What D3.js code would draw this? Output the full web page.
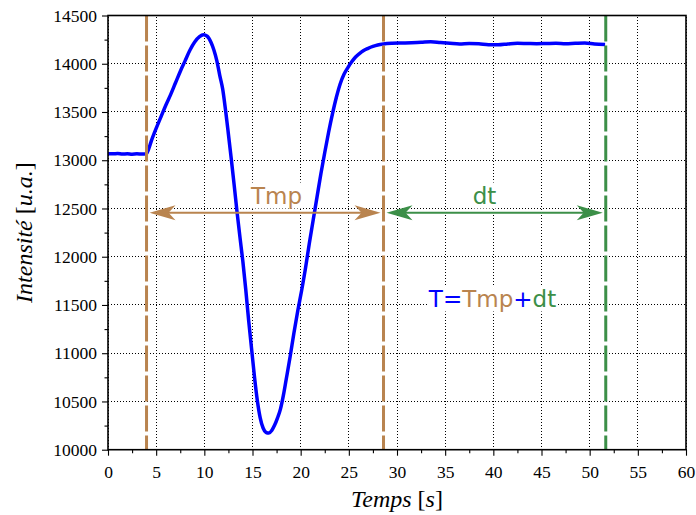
<!DOCTYPE html>
<html><head><meta charset="utf-8">
<script src="https://cdn.jsdelivr.net/npm/d3@7"></script>
<style>body{margin:0;background:#fff}svg{display:block}</style>
</head><body>
<svg id="chart" width="696" height="515"></svg>
<script>
// ---- data ----
const time = [0,0.5,1,1.5,2,2.5,3,3.5,4.0,4.2,4.5,5.0,5.5,6.0,6.5,7.0,7.5,8.0,8.5,9.0,9.5,9.9,10.3,10.7,11.0,11.3,11.6,11.9,12.2,12.5,12.8,13.1,13.4,13.7,14.0,14.3,14.6,14.9,15.2,15.5,15.8,16.1,16.4,16.7,17.0,17.3,17.6,17.9,18.2,18.5,18.9,19.3,19.7,20.1,20.5,20.9,21.3,21.7,22.1,22.5,22.9,23.3,23.7,24.1,24.5,24.9,25.3,25.7,26.1,26.5,27.0,27.5,28.0,28.6,29.5,30.5,31.5,32.5,33.5,34.5,35.5,36.5,37.5,38.5,39.5,40.5,41.5,42.5,43.5,44.5,45.5,46.5,47.5,48.5,49.5,50.5,51.6];
const intensity = [13068,13066,13070,13064,13067,13063,13066,13065,13068,13110,13200,13330,13450,13570,13680,13800,13920,14030,14140,14225,14280,14300,14285,14220,14140,14030,13880,13740,13520,13270,13010,12740,12460,12200,11950,11660,11340,11050,10760,10510,10330,10225,10180,10172,10200,10255,10330,10420,10560,10730,10960,11210,11440,11650,11880,12140,12380,12620,12860,13080,13290,13480,13650,13790,13890,13960,14020,14070,14105,14135,14160,14180,14195,14205,14212,14215,14218,14222,14228,14220,14212,14205,14210,14206,14198,14196,14205,14212,14210,14208,14210,14212,14208,14212,14215,14205,14200];
const xTicks = [0,5,10,15,20,25,30,35,40,45,50,55,60];
const yTicks = [10000,10500,11000,11500,12000,12500,13000,13500,14000,14500];
const tStart = 4.0, tEnd = 28.6, tFinal = 51.67;   // vertical markers
const arrowLevel = 12455;
const labels = {tmp:"Tmp", dt:"dt"};

// ---- layout ----
const W = 696, H = 515;
const m = {l:108, r:10, t:15.5, b:65.3};
const svg = d3.select("#chart");
const x = d3.scaleLinear().domain([0,60]).range([m.l, W-m.r]);
const y = d3.scaleLinear().domain([10000,14500]).range([H-m.b, m.t]);
const brown = "#b9844f", green = "#3c8f48", blue = "#0000ff";
const serif = "'Liberation Serif','Times New Roman',serif";
const sans = "'DejaVu Sans',sans-serif";

// grid
const grid = svg.append("g").attr("shape-rendering","crispEdges");
grid.selectAll(".gx").data(xTicks).join("line")
  .attr("x1",d=>x(d)).attr("x2",d=>x(d)).attr("y1",y(10000)).attr("y2",y(14500))
  .attr("stroke","#000").attr("stroke-width",1).attr("stroke-dasharray","1,2");
grid.selectAll(".gy").data(yTicks).join("line")
  .attr("y1",d=>y(d)).attr("y2",d=>y(d)).attr("x1",x(0)).attr("x2",x(60))
  .attr("stroke","#000").attr("stroke-width",1).attr("stroke-dasharray","1,2");

// curve
svg.append("path").datum(time.map((t,i)=>[t,intensity[i]]))
  .attr("d", d3.line().x(d=>x(d[0])).y(d=>y(d[1])).curve(d3.curveMonotoneX))
  .attr("fill","none").attr("stroke",blue).attr("stroke-width",3.5).attr("stroke-linejoin","round");

// vertical dashed markers
[[tStart,brown],[tEnd,brown],[tFinal,green]].forEach(([t,c])=>{
  svg.append("line").attr("x1",x(t)).attr("x2",x(t)).attr("y1",y(14500)).attr("y2",y(10000))
    .attr("stroke",c).attr("stroke-width",3).attr("stroke-dasharray","26,4");
});

// arrows
function stealth(tipX, tipY, dir, color){
  const L=26, Wd=7.5, N=19;
  const p = [[tipX,tipY],[tipX+dir*L,tipY-Wd],[tipX+dir*N,tipY],[tipX+dir*L,tipY+Wd]];
  svg.append("path").attr("d","M"+p.map(q=>q.join(",")).join("L")+"Z").attr("fill",color);
}
function dblArrow(t0,t1,color){
  const x0 = x(t0)+3, x1 = x(t1)-3, yy = y(arrowLevel);
  svg.append("line").attr("x1",x0+10).attr("x2",x1-10).attr("y1",yy).attr("y2",yy)
    .attr("stroke",color).attr("stroke-width",2);
  stealth(x0,yy,1,color); stealth(x1,yy,-1,color);
}

// boxed text helper
function boxedText(cx, base, parts){
  const g = svg.append("g");
  const rect = g.append("rect").attr("fill","#fff");
  const txt = g.append("text").attr("x",cx).attr("y",base).attr("text-anchor","middle")
    .style("font-family",sans).style("font-size","23px");
  parts.forEach(([s,c])=>txt.append("tspan").attr("fill",c).text(s));
  const bb = txt.node().getBBox();
  rect.attr("x",bb.x).attr("y",bb.y).attr("width",bb.width).attr("height",bb.height);
}

dblArrow(tStart,tEnd,brown);
dblArrow(tEnd,tFinal,green);
boxedText(276.5, 203.5, [[labels.tmp,brown]]);
boxedText(484.5, 203.5, [[labels.dt,green]]);
boxedText(492.5, 306.5, [["T",blue],["=",blue],["Tmp",brown],["+",blue],["dt",green]]);

// axes
const xMinor = d3.range(0,60.01,2.5).filter(v=>v%5!==0);
const yMinor = d3.range(10000,14501,250).filter(v=>v%500!==0);
const ax = svg.append("g").attr("transform",`translate(0,${y(10000)})`)
  .call(d3.axisBottom(x).tickValues(xTicks).tickSize(6).tickPadding(10).tickSizeOuter(0).tickFormat(d3.format("d")));
const ay = svg.append("g").attr("transform",`translate(${x(0)},0)`)
  .call(d3.axisLeft(y).tickValues(yTicks).tickSize(6).tickPadding(5).tickSizeOuter(0).tickFormat(d3.format("d")));
svg.append("g").attr("transform",`translate(0,${y(10000)})`)
  .call(d3.axisBottom(x).tickValues(xMinor).tickSize(3.5).tickFormat("").tickSizeOuter(0))
  .select(".domain").remove();
svg.append("g").attr("transform",`translate(${x(0)},0)`)
  .call(d3.axisLeft(y).tickValues(yMinor).tickSize(3.5).tickFormat("").tickSizeOuter(0))
  .select(".domain").remove();
svg.selectAll(".domain").remove();
svg.selectAll(".tick line").attr("stroke","#000").attr("stroke-width",1.1);
ax.selectAll("text").style("font-family",serif).style("font-size","17.5px").attr("fill","#000");
ay.selectAll("text").style("font-family",serif).style("font-size","17.5px").attr("fill","#000");

// frame
svg.append("rect").attr("x",x(0)).attr("y",y(14500)).attr("width",x(60)-x(0)).attr("height",y(10000)-y(14500))
  .attr("fill","none").attr("stroke","#000").attr("stroke-width",1.6);

// axis labels
const xl = svg.append("text").attr("x",(x(0)+x(60))/2).attr("y",507).attr("text-anchor","middle")
  .style("font-family",serif).style("font-size","24px");
xl.append("tspan").style("font-style","italic").text("Temps ");
xl.append("tspan").text("[");
xl.append("tspan").style("font-style","italic").text("s");
xl.append("tspan").text("]");
const yl = svg.append("text").attr("transform",`translate(32,${(y(10000)+y(14500))/2}) rotate(-90)`)
  .attr("text-anchor","middle").style("font-family",serif).style("font-size","24px");
yl.append("tspan").style("font-style","italic").text("Intensité ");
yl.append("tspan").text("[");
yl.append("tspan").style("font-style","italic").text("u.a.");
yl.append("tspan").text("]");
</script>
</body></html>
